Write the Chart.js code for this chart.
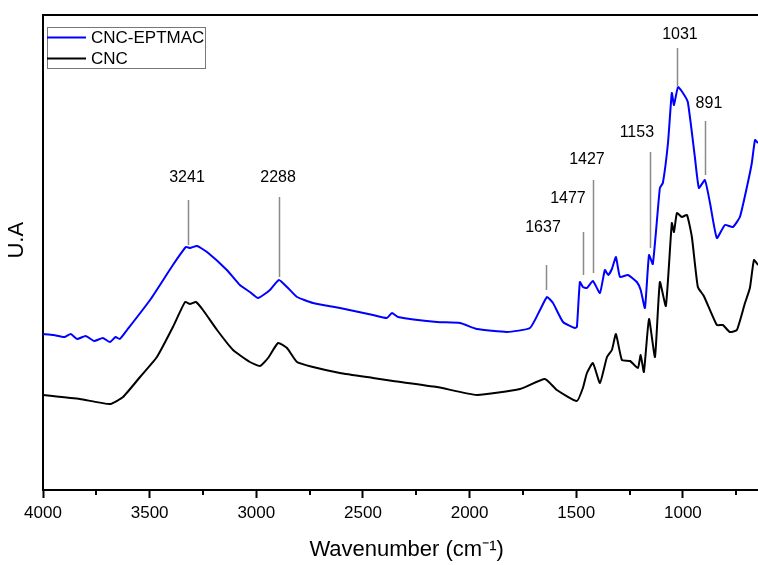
<!DOCTYPE html>
<html>
<head>
<meta charset="utf-8">
<script src="https://cdn.jsdelivr.net/npm/chart.js@4"></script>
<style>
  html, body { margin: 0; padding: 0; background: #fff; }
  #wrap { width: 758px; height: 565px; position: relative; }
</style>
</head>
<body>
<div id="wrap"><canvas id="ftir"></canvas></div>
<script>
// spectrum (wavenumber in cm-1, intensity in arbitrary units)
const cncEptmacWavenumber = [4000, 3950, 3900, 3870, 3840, 3800, 3760, 3720, 3686, 3660, 3640, 3606, 3498, 3391, 3330, 3311, 3278, 3231, 3138, 3077, 3030, 2992, 2936, 2894, 2856, 2809, 2734, 2608, 2453, 2388, 2364, 2336, 2153, 2045, 1966, 1825, 1717, 1670, 1637, 1609, 1562, 1506, 1497, 1483, 1469, 1450, 1422, 1389, 1366, 1350, 1333, 1314, 1295, 1258, 1216, 1198, 1178, 1159, 1141, 1108, 1094, 1070, 1052, 1042, 1023, 1000, 977, 944, 925, 897, 873, 841, 803, 766, 733, 700, 677, 662, 648];
const cncEptmacIntensity  = [1.55, 1.54, 1.52, 1.55, 1.50, 1.53, 1.48, 1.51, 1.47, 1.52, 1.50, 1.59, 1.89, 2.24, 2.42, 2.41, 2.43, 2.37, 2.19, 2.04, 1.97, 1.91, 1.99, 2.09, 2.02, 1.92, 1.86, 1.81, 1.74, 1.71, 1.76, 1.72, 1.67, 1.66, 1.60, 1.57, 1.61, 1.79, 1.92, 1.86, 1.67, 1.61, 1.62, 2.07, 2.02, 2.01, 2.08, 1.96, 2.19, 2.14, 2.20, 2.32, 2.12, 2.14, 2.07, 1.99, 1.81, 2.34, 2.25, 3.01, 3.06, 3.46, 3.96, 3.84, 4.02, 3.96, 3.87, 3.32, 3.01, 3.09, 2.86, 2.51, 2.64, 2.62, 2.72, 3.02, 3.26, 3.49, 3.46];

const cncWavenumber = [4000, 3827, 3686, 3625, 3545, 3466, 3391, 3334, 3311, 3283, 3250, 3184, 3109, 3030, 2983, 2945, 2898, 2856, 2809, 2734, 2608, 2453, 2359, 2153, 1966, 1764, 1647, 1591, 1497, 1469, 1450, 1422, 1389, 1356, 1333, 1314, 1286, 1248, 1211, 1198, 1183, 1159, 1131, 1108, 1080, 1052, 1042, 1028, 1005, 981, 958, 930, 902, 841, 813, 780, 747, 709, 686, 667, 648];
const cncIntensity  = [0.94, 0.90, 0.85, 0.92, 1.12, 1.32, 1.62, 1.87, 1.85, 1.87, 1.79, 1.59, 1.39, 1.27, 1.23, 1.31, 1.46, 1.41, 1.27, 1.22, 1.16, 1.11, 1.08, 1.02, 0.94, 1.00, 1.10, 0.99, 0.88, 1.01, 1.16, 1.26, 1.06, 1.32, 1.39, 1.55, 1.29, 1.28, 1.21, 1.34, 1.17, 1.70, 1.32, 2.07, 1.83, 2.66, 2.57, 2.76, 2.72, 2.74, 2.52, 2.02, 1.93, 1.64, 1.64, 1.57, 1.59, 1.86, 2.01, 2.29, 2.24];

// x axis ticks
const majorTicks = [4000, 3500, 3000, 2500, 2000, 1500, 1000];
const minorTicks = [3750, 3250, 2750, 2250, 1750, 1250, 750];

// peak labels: text, marker x, marker top/bottom, label x, label y
const peakText      = ['3241', '2288', '1637', '1477', '1427', '1153', '1031', '891'];
const peakLineX     = [3320, 2894, 1642, 1469, 1422, 1155, 1028, 897];
const peakLineTop   = [2.89, 2.92, 2.24, 2.57, 3.09, 3.37, 4.41, 3.68];
const peakLineBot   = [2.44, 2.12, 1.99, 2.14, 2.16, 2.41, 4.02, 3.14];
const peakLabelX    = [3325, 2898, 1656, 1539, 1450, 1216, 1014, 878];
const peakLabelY    = [3.11, 3.11, 2.61, 2.90, 3.29, 3.56, 4.54, 3.85];

const FONT = 'Liberation Sans, Arial, sans-serif';

function paar(xs, ys) {
    return xs.map((x, i) => ({ x: x, y: ys[i] }));
}

// extra tekenwerk: kader, kleine ticks, piekmarkeringen en legenda
const extras = {
    id: 'extras',
    afterDraw(chart) {
        const ctx = chart.ctx;
        const area = chart.chartArea;
        const xs = chart.scales.x;
        const ys = chart.scales.y;
        ctx.save();

        // bovenrand
        ctx.strokeStyle = '#000';
        ctx.lineWidth = 2;
        ctx.beginPath();
        ctx.moveTo(area.left - 1, area.top);
        ctx.lineTo(area.right, area.top);
        ctx.stroke();

        // kleine ticks
        minorTicks.forEach(v => {
            const px = Math.round(xs.getPixelForValue(v));
            ctx.beginPath();
            ctx.moveTo(px, area.bottom);
            ctx.lineTo(px, area.bottom + 5);
            ctx.stroke();
        });

        // pieken
        ctx.strokeStyle = '#8a8a8a';
        ctx.lineWidth = 1.5;
        ctx.fillStyle = '#000';
        ctx.font = '16px ' + FONT;
        ctx.textAlign = 'center';
        ctx.textBaseline = 'middle';
        peakText.forEach((t, i) => {
            const px = Math.round(xs.getPixelForValue(peakLineX[i])) + 0.5;
            ctx.beginPath();
            ctx.moveTo(px, ys.getPixelForValue(peakLineTop[i]));
            ctx.lineTo(px, ys.getPixelForValue(peakLineBot[i]));
            ctx.stroke();
            ctx.fillText(t, xs.getPixelForValue(peakLabelX[i]), ys.getPixelForValue(peakLabelY[i]));
        });

        // legenda
        const lx = area.left + 4, ly = area.top + 12;
        ctx.strokeStyle = '#777';
        ctx.lineWidth = 1;
        ctx.strokeRect(lx + 0.5, ly + 0.5, 158, 41);
        ctx.font = '17px ' + FONT;
        ctx.textAlign = 'left';
        chart.data.datasets.forEach((ds, i) => {
            const yy = ly + 10.5 + i * 21;
            ctx.strokeStyle = ds.borderColor;
            ctx.lineWidth = 2;
            ctx.beginPath();
            ctx.moveTo(lx, yy);
            ctx.lineTo(lx + 39, yy);
            ctx.stroke();
            ctx.fillStyle = '#000';
            ctx.fillText(ds.label, lx + 44, yy + 1);
        });
        ctx.restore();
    }
};

new Chart(document.getElementById('ftir'), {
    type: 'line',
    data: {
        datasets: [
            {
                label: 'CNC-EPTMAC',
                data: paar(cncEptmacWavenumber, cncEptmacIntensity),
                borderColor: '#0000ff',
                borderWidth: 2,
                pointRadius: 0,
                tension: 0.15
            },
            {
                label: 'CNC',
                data: paar(cncWavenumber, cncIntensity),
                borderColor: '#000000',
                borderWidth: 2,
                pointRadius: 0,
                tension: 0.15
            }
        ]
    },
    options: {
        responsive: true,
        maintainAspectRatio: false,
        animation: false,
        layout: { padding: { top: 15, right: 0, left: 0, bottom: 0 } },
        plugins: {
            legend: { display: false },
            tooltip: { enabled: false }
        },
        scales: {
            x: {
                type: 'linear',
                reverse: true,
                min: 648,
                max: 4000,
                afterBuildTicks: s => { s.ticks = majorTicks.map(v => ({ value: v })); },
                afterFit: s => { s.height = 75; },
                ticks: {
                    autoSkip: false,
                    maxRotation: 0,
                    padding: 5,
                    color: '#000',
                    font: { family: FONT, size: 17 },
                    callback: v => String(v)
                },
                grid: {
                    drawOnChartArea: false,
                    drawTicks: true,
                    tickLength: 8,
                    tickColor: '#000',
                    tickWidth: 2
                },
                border: { display: true, color: '#000', width: 2 },
                title: {
                    display: true,
                    text: '  Wavenumber (cm\u207B\u00B9)',
                    color: '#000',
                    font: { family: FONT, size: 22 },
                    padding: { top: 0, bottom: 2 }
                }
            },
            y: {
                min: -0.01,
                max: 4.74,
                afterFit: s => { s.width = 43; },
                ticks: { display: false },
                grid: { drawOnChartArea: false, drawTicks: false },
                border: { display: true, color: '#000', width: 2 },
                title: {
                    display: true,
                    text: '    U.A',
                    color: '#000',
                    font: { family: FONT, size: 22 },
                    padding: { top: 4, bottom: 0 }
                }
            }
        }
    },
    plugins: [extras]
});
</script>
</body>
</html>
